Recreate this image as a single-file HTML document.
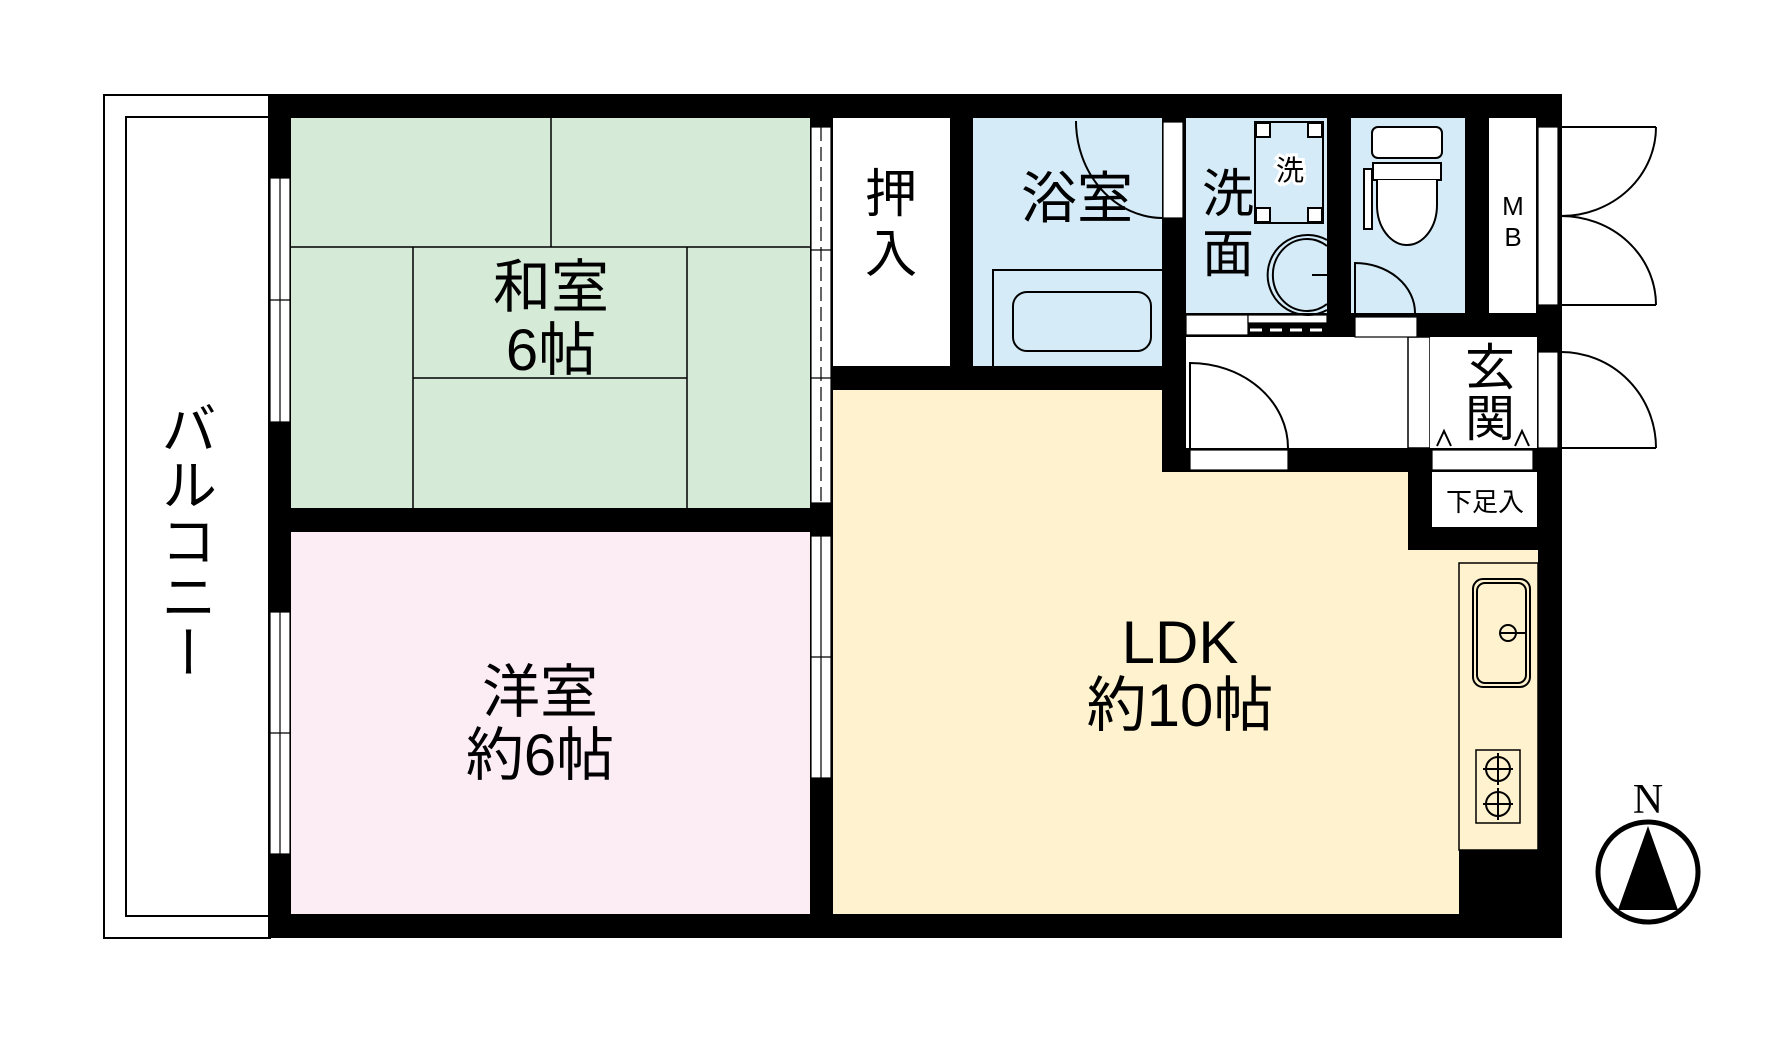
<!DOCTYPE html>
<html><head><meta charset="utf-8"><style>
html,body{margin:0;padding:0;background:#fff;}
svg{display:block;}
text{font-family:"Liberation Sans","Noto Sans CJK JP",sans-serif;fill:#000;}
</style></head><body>
<svg width="1775" height="1049" viewBox="0 0 1775 1049" xmlns="http://www.w3.org/2000/svg">
<!-- balcony -->
<rect x="104" y="95" width="166" height="843" fill="#fff" stroke="#000" stroke-width="2"/>
<rect x="126" y="117" width="144" height="799" fill="#fff" stroke="#000" stroke-width="2"/>
<text x="189" y="400" font-size="56" style="writing-mode:vertical-rl;font-family:'Noto Sans CJK JP',sans-serif" text-anchor="start">バルコニー</text>
<!-- outer black body -->
<rect x="268" y="94" width="1294" height="844" fill="#000"/>
<!-- rooms -->
<rect x="291" y="118" width="519" height="390" fill="#d5ead7"/>
<rect x="291" y="532" width="519" height="382" fill="#fcecf3"/>
<rect x="833" y="118" width="117" height="248" fill="#fff"/>
<rect x="973" y="118" width="189" height="248" fill="#d5ecf8"/>
<rect x="1186" y="118" width="141" height="195" fill="#d5ecf8"/>
<rect x="1351" y="118" width="114" height="195" fill="#d5ecf8"/>
<rect x="1489" y="118" width="47" height="195" fill="#fff"/>
<rect x="1186" y="337" width="222" height="111" fill="#fff"/>
<rect x="1408" y="337" width="22" height="111" fill="#fff" stroke="#000" stroke-width="1.5"/>
<rect x="1430" y="337" width="107" height="111" fill="#fff"/>
<rect x="1432" y="472" width="105" height="55" fill="#fff"/>
<path d="M833 390 H1162 V472 H1408 V550 H1538 V850 H1459 V914 H833 Z" fill="#fff3cf"/>
<!-- tatami -->
<g stroke="#000" stroke-width="1.5" fill="none">
<line x1="291" y1="247" x2="810" y2="247"/>
<line x1="551" y1="118" x2="551" y2="247"/>
<line x1="413" y1="247" x2="413" y2="508"/>
<line x1="687" y1="247" x2="687" y2="508"/>
<line x1="413" y1="378" x2="687" y2="378"/>
</g>
<!-- windows left wall -->
<g fill="#fff" stroke="#000" stroke-width="1.2">
<rect x="270" y="178" width="20" height="244"/>
<line x1="280" y1="178" x2="280" y2="422"/>
<line x1="270" y1="300" x2="290" y2="300"/>
<rect x="270" y="612" width="20" height="242"/>
<line x1="280" y1="612" x2="280" y2="854"/>
<line x1="270" y1="733" x2="290" y2="733"/>
<!-- partition sliding doors -->
<rect x="811" y="127" width="20" height="376"/>
<line x1="821" y1="127" x2="821" y2="503" stroke-dasharray="14 6"/>
<line x1="811" y1="250" x2="831" y2="250"/>
<line x1="811" y1="378" x2="831" y2="378"/>
<rect x="811" y="536" width="20" height="242"/>
<line x1="821" y1="536" x2="821" y2="778"/>
<line x1="811" y1="657" x2="831" y2="657"/>
<!-- bath door strip -->
<rect x="1163" y="122" width="20" height="96"/>
<!-- MB outside strips -->
<rect x="1538" y="127" width="20" height="178"/>
<rect x="1538" y="352" width="20" height="96"/>
<!-- senmen bottom strip -->
<rect x="1186" y="315" width="62" height="20"/>
<rect x="1248" y="315" width="79" height="8"/>
<rect x="1355" y="317" width="62" height="20"/>
<rect x="1190" y="450" width="98" height="20"/>
<rect x="1432" y="450" width="101" height="20"/>
</g>
<line x1="1250" y1="330" x2="1327" y2="330" stroke="#fff" stroke-width="3" stroke-dasharray="12 8"/>
<!-- bath -->
<g stroke="#000" stroke-width="2" fill="none">
<path d="M993 366 V270 H1162"/>
<rect x="1013" y="292" width="138" height="59" rx="14"/>
<path d="M1076 121 A87 97 0 0 0 1162 218"/>
<!-- washer -->
<rect x="1255" y="122" width="68" height="101" fill="#d5ecf8"/>
<rect x="1256" y="123" width="14" height="14" fill="#fff"/><rect x="1308" y="123" width="14" height="14" fill="#fff"/>
<rect x="1256" y="208" width="14" height="14" fill="#fff"/><rect x="1308" y="208" width="14" height="14" fill="#fff"/>
<!-- sink -->
<path d="M1327 240 A40 40 0 1 0 1327 310"/>
<path d="M1327 246 A34 36 0 1 0 1327 304"/>
<line x1="1312" y1="275" x2="1327" y2="275"/>
<!-- toilet -->
<rect x="1372" y="127" width="70" height="31" rx="6" fill="#fff"/>
<rect x="1373" y="163" width="68" height="17" fill="#fff"/>
<path d="M1377 180 V205 A30 40 0 0 0 1437 205 V180" fill="#fff"/>
<rect x="1364" y="169" width="8" height="60" fill="#fff"/>
<path d="M1355 313 V263 A60 50 0 0 1 1415 313"/>
<!-- hallway door -->
<path d="M1190 448 V363 A98 85 0 0 1 1288 448"/>
<!-- outside doors -->
<line x1="1561" y1="127" x2="1656" y2="127"/>
<path d="M1656 127 A95 89 0 0 1 1561 216"/>
<line x1="1561" y1="305" x2="1656" y2="305"/>
<path d="M1656 305 A95 89 0 0 0 1561 216"/>
<line x1="1561" y1="448" x2="1656" y2="448"/>
<path d="M1656 448 A95 96 0 0 0 1561 352"/>
<!-- genkan triangles -->
<path d="M1437 446 L1444 431 L1451 446"/>
<path d="M1515 446 L1522 431 L1529 446"/>
<!-- kitchen -->
<rect x="1459" y="563" width="79" height="287" stroke-width="1.5"/>
<rect x="1473" y="579" width="57" height="108" rx="10"/>
<rect x="1477" y="583" width="49" height="100" rx="8"/>
<circle cx="1508" cy="633" r="8"/>
<line x1="1500" y1="633" x2="1527" y2="633"/>
<rect x="1476" y="750" width="44" height="73" stroke-width="1.5"/>
<circle cx="1498" cy="769" r="12"/>
<circle cx="1498" cy="804" r="12"/>
<path d="M1498 753 V785 M1498 788 V820 M1483 769 H1513 M1483 804 H1513"/>
</g>
<!-- labels -->
<text x="551" y="307" font-size="58" text-anchor="middle">和室</text>
<text x="551" y="370" font-size="58" text-anchor="middle">6帖</text>
<text x="540" y="712" font-size="58" text-anchor="middle">洋室</text>
<text x="540" y="775" font-size="58" text-anchor="middle">約6帖</text>
<text x="1180" y="663" font-size="60" text-anchor="middle">LDK</text>
<text x="1180" y="726" font-size="60" text-anchor="middle">約10帖</text>
<text x="891" y="212" font-size="52" text-anchor="middle">押</text>
<text x="891" y="272" font-size="52" text-anchor="middle">入</text>
<text x="1077" y="218" font-size="56" text-anchor="middle">浴室</text>
<text x="1228" y="212" font-size="52" text-anchor="middle">洗</text>
<text x="1228" y="272" font-size="52" text-anchor="middle">面</text>
<text x="1290" y="180" font-size="28" text-anchor="middle" stroke="#fff" stroke-width="6" paint-order="stroke">洗</text>
<text x="1513" y="215" font-size="26" text-anchor="middle">M</text>
<text x="1513" y="246" font-size="26" text-anchor="middle">B</text>
<text x="1490" y="385" font-size="50" text-anchor="middle">玄</text>
<text x="1490" y="436" font-size="50" text-anchor="middle">関</text>
<text x="1485" y="511" font-size="26" text-anchor="middle">下足入</text>
<!-- compass -->
<text x="1648" y="813" font-size="42" text-anchor="middle" style="font-family:'Liberation Serif',serif">N</text>
<ellipse cx="1648" cy="872" rx="50" ry="50" fill="#fff" stroke="#000" stroke-width="5"/>
<path d="M1648 826 L1618 910 L1678 910 Z" fill="#000"/>
</svg>
</body></html>
